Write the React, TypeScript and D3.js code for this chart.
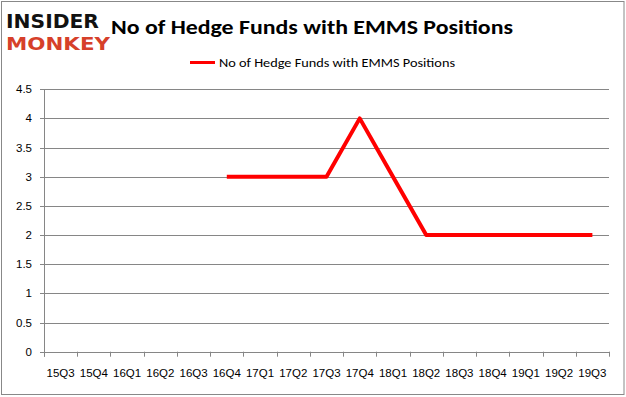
import React from "react";
import * as d3 from "d3";

const categories = ["15Q3","15Q4","16Q1","16Q2","16Q3","16Q4","17Q1","17Q2","17Q3","17Q4","18Q1","18Q2","18Q3","18Q4","19Q1","19Q2","19Q3"];
const values: (number | null)[] = [null,null,null,null,null,3,3,3,3,4,3,2,2,2,2,2,2];
const yTicks = [0,0.5,1,1.5,2,2.5,3,3.5,4,4.5];
const seriesName = "No of Hedge Funds with EMMS  Positions";
const title = "No of Hedge Funds with EMMS Positions";

export default function App() {
  const W = 626, H = 397;
  const left = 44, right = 609, top = 89.2, bottom = 351.7;
  const x = d3.scaleBand<string>().domain(categories).range([left, right]);
  const y = d3.scaleLinear().domain([0, 4.5]).range([bottom, top]);
  const line = d3.line<number | null>()
    .defined(d => d !== null)
    .x((_, i) => (x(categories[i]) as number) + x.bandwidth() / 2)
    .y(d => y(d as number));
  const font = "Carlito, Calibri, 'Open Sans', sans-serif";
  const axisFont = "'Liberation Sans', Arial, sans-serif";
  return (
    <div style={{ position: "absolute", left: 0, top: 0 }}>
      <svg width={W} height={H} style={{ display: "block" }}>
        <rect x={0} y={0} width={W} height={H} fill="#fff" />
        <rect x={1.5} y={1.5} width={622.5} height={393} fill="none" stroke="#888" strokeWidth={1} />
        {/* logo */}
        <text x={6} y={28} fontFamily="'DejaVu Sans', sans-serif" fontWeight="bold" fontSize={20} fill="#111" textLength={93} lengthAdjust="spacingAndGlyphs">INSIDER</text>
        <text x={6} y={50} fontFamily="'DejaVu Sans', sans-serif" fontWeight="bold" fontSize={18.5} fill="#d6402a" textLength={104} lengthAdjust="spacingAndGlyphs">MONKEY</text>
        {/* title */}
        <text x={111} y={34} fontFamily={font} fontWeight="bold" fontSize={21} fill="#000" textLength={402} lengthAdjust="spacingAndGlyphs">{title}</text>
        {/* legend */}
        <line x1={190} x2={215} y1={62.5} y2={62.5} stroke="#ff0000" strokeWidth={3} />
        <text x={219} y={67} fontFamily={font} fontSize={13} fill="#000" textLength={236} lengthAdjust="spacingAndGlyphs">{seriesName}</text>
        {/* gridlines */}
        {yTicks.map(t => (
          <line key={t} x1={left} x2={right} y1={Math.round(y(t)) + 0.5} y2={Math.round(y(t)) + 0.5} stroke="#868686" strokeWidth={1} />
        ))}
        {/* y axis */}
        <line x1={left + 0.5} x2={left + 0.5} y1={top} y2={bottom + 5} stroke="#868686" />
        {yTicks.map(t => (
          <g key={"yt" + t}>
            <line x1={left - 4} x2={left} y1={Math.round(y(t)) + 0.5} y2={Math.round(y(t)) + 0.5} stroke="#868686" />
            <text x={32} y={y(t) + 4} textAnchor="end" fontFamily={axisFont} fontSize={11.5} fill="#000">{t}</text>
          </g>
        ))}
        {/* x ticks */}
        {categories.map((c, i) => (
          <line key={"xt" + c} x1={Math.round(left + i * x.step()) + 0.5} x2={Math.round(left + i * x.step()) + 0.5} y1={bottom} y2={bottom + 5} stroke="#868686" />
        ))}
        <line x1={right + 0.5} x2={right + 0.5} y1={bottom} y2={bottom + 5} stroke="#868686" />
        {categories.map(c => (
          <text key={"xl" + c} x={(x(c) as number) + x.bandwidth() / 2} y={377} textAnchor="middle" fontFamily={axisFont} fontSize={11.5} fill="#000">{c}</text>
        ))}
        <path d={line(values) || ""} fill="none" stroke="#ff0000" strokeWidth={4} strokeLinejoin="round" />
      </svg>
    </div>
  );
}
